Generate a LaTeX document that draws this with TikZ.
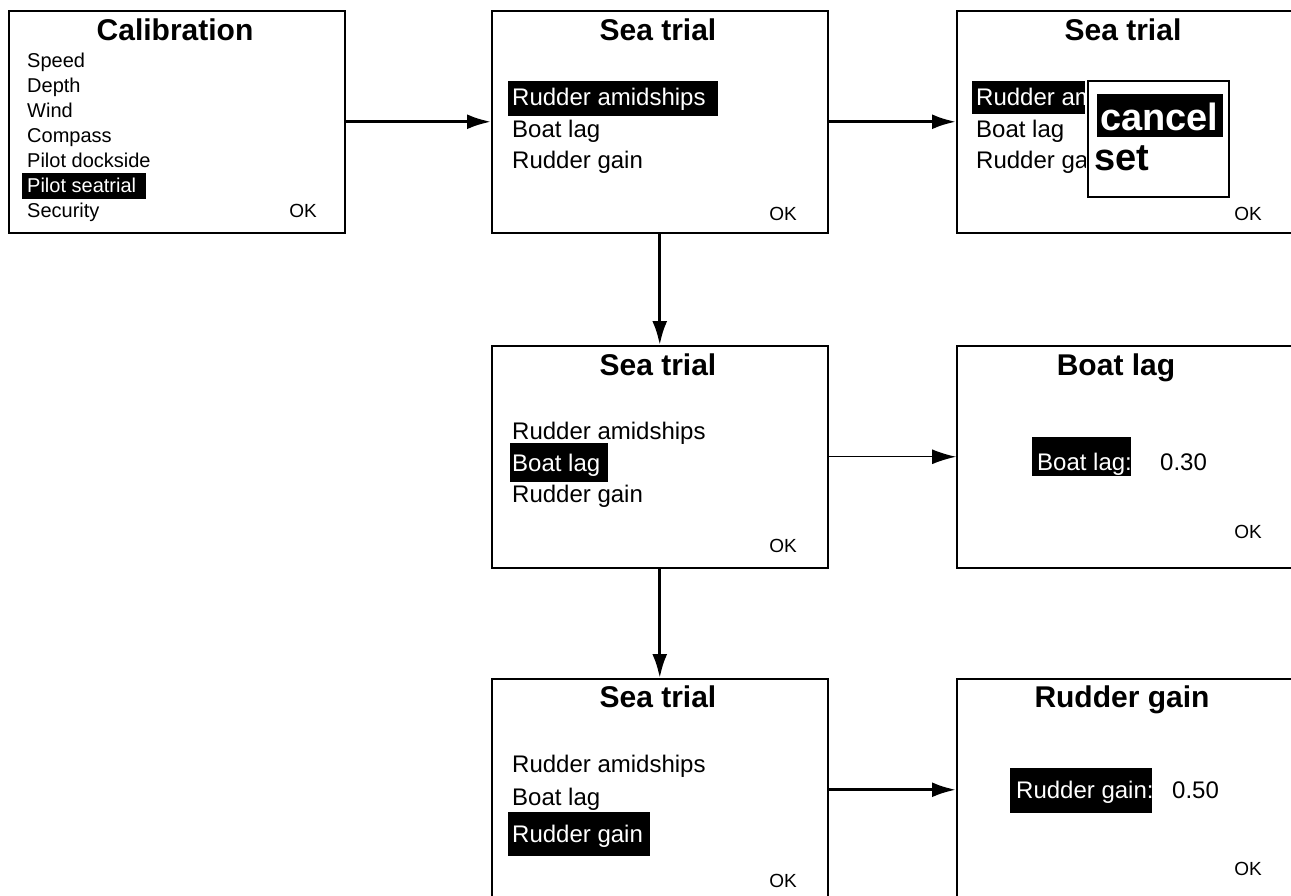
\documentclass[tikz,border=0pt]{standalone}
\usepackage{fontspec}
\setmainfont{Liberation Sans}
\usetikzlibrary{arrows.meta, positioning}

\tikzset{
  screen/.style={draw, line width=1.5pt, anchor=north west, inner sep=0pt,
    minimum width=336pt, minimum height=222pt},
  ttl/.style={anchor=base, inner sep=0pt, font=\fontsize{30}{36}\selectfont\bfseries},
  itm/.style={anchor=base west, inner sep=0pt, font=\fontsize{24}{29}\selectfont},
  calitm/.style={anchor=base west, inner sep=0pt, font=\fontsize{20}{24}\selectfont},
  popitm/.style={anchor=base west, inner sep=0pt, font=\fontsize{38}{44}\selectfont\bfseries},
  okl/.style={anchor=base east, inner sep=0pt, font=\fontsize{19}{23}\selectfont},
  flow/.style={-{Latex[length=24pt, width=15pt]}, line width=3pt},
}

\begin{document}
\begin{tikzpicture}[x=1pt, y=-1pt]
  \clip (0,0) rectangle (1291,895);
  \fill[white] (0,0) rectangle (1291,895);

  %% Screens
  \node[screen] (cal)      at (8,10)    {};
  \node[screen] (trialTop) at (491,10)  {};
  \node[screen, minimum width=350pt] (trialPop) at (956,10)  {};
  \node[screen] (trialMid) at (491,345) {};
  \node[screen, minimum width=350pt] (lagScr)   at (956,345) {};
  \node[screen] (trialBot) at (491,678) {};
  \node[screen, minimum width=350pt] (gainScr)  at (956,678) {};

  %% Calibration menu
  \node[ttl] (cal-t) at (175,40) {Calibration};
  \foreach \txt/\y [count=\i] in {Speed/67, Depth/92, Wind/117, Compass/142,
      Pilot dockside/167, Security/217} {
    \node[calitm] (cal-\i) at (27,\y) {\txt};
  }
  \fill[black] (22,173) rectangle (146,199);
  \node[calitm, text=white] (cal-sel) at (27,192) {Pilot seatrial};
  \node[okl] (cal-ok) at (317,217) {OK};

  %% Sea trial, first item selected
  \node[ttl] (top-t) at (658,40) {Sea trial};
  \fill[black] (508,81) rectangle (718,116);
  \node[itm, text=white] (top-1) at (512,105) {Rudder amidships};
  \node[itm] (top-2) at (512,137) {Boat lag};
  \node[itm] (top-3) at (512,168) {Rudder gain};
  \node[okl] (top-ok) at (797,220) {OK};

  %% Sea trial with cancel/set popup
  \node[ttl] (pop-t) at (1123,40) {Sea trial};
  \begin{scope}
    \clip (960,70) rectangle (1085,200);
    \fill[black] (972,81) rectangle (1085,114);
    \node[itm, text=white] (pop-1) at (976,105) {Rudder amidships};
    \node[itm] (pop-2) at (976,137) {Boat lag};
    \node[itm] (pop-3) at (976,168) {Rudder gain};
  \end{scope}
  \draw[line width=2pt] (1088,81) rectangle (1229,197);
  \fill[black] (1097,94) rectangle (1223,137);
  \node[popitm, text=white] (pop-cancel) at (1100,130) {cancel};
  \node[popitm] (pop-set) at (1094,170) {set};
  \node[okl] (pop-ok) at (1262,220) {OK};

  %% Sea trial, boat lag selected
  \node[ttl] (mid-t) at (658,375) {Sea trial};
  \node[itm] (mid-1) at (512,439) {Rudder amidships};
  \fill[black] (510,443) rectangle (608,482);
  \node[itm, text=white] (mid-2) at (512,471) {Boat lag};
  \node[itm] (mid-3) at (512,502) {Rudder gain};
  \node[okl] (mid-ok) at (797,552) {OK};

  %% Boat lag setting
  \node[ttl] (lag-t) at (1116,375) {Boat lag};
  \fill[black] (1032,437) rectangle (1131,476);
  \node[itm, text=white] (lag-l) at (1037,470) {Boat lag:};
  \node[itm] (lag-v) at (1160,470) {0.30};
  \node[okl] (lag-ok) at (1262,538) {OK};

  %% Sea trial, rudder gain selected
  \node[ttl] (bot-t) at (658,707) {Sea trial};
  \node[itm] (bot-1) at (512,772) {Rudder amidships};
  \node[itm] (bot-2) at (512,805) {Boat lag};
  \fill[black] (508,812) rectangle (650,856);
  \node[itm, text=white] (bot-3) at (512,842) {Rudder gain};
  \node[okl] (bot-ok) at (797,887) {OK};

  %% Rudder gain setting
  \node[ttl] (gain-t) at (1122,707) {Rudder gain};
  \fill[black] (1010,768) rectangle (1152,813);
  \node[itm, text=white] (gain-l) at (1016,798) {Rudder gain:};
  \node[itm] (gain-v) at (1172,798) {0.50};
  \node[okl] (gain-ok) at (1262,875) {OK};

  %% Arrows
  \draw[flow] (cal.east) -- (trialTop.west);
  \draw[flow] (trialTop.east) -- (trialPop.west);
  \draw[flow] (trialTop.south) -- (trialMid.north);
  \draw[flow, line width=1.2pt] (trialMid.east) -- (lagScr.west);
  \draw[flow] (trialMid.south) -- (trialBot.north);
  \draw[flow] (trialBot.east) -- (gainScr.west);
\end{tikzpicture}
\end{document}
